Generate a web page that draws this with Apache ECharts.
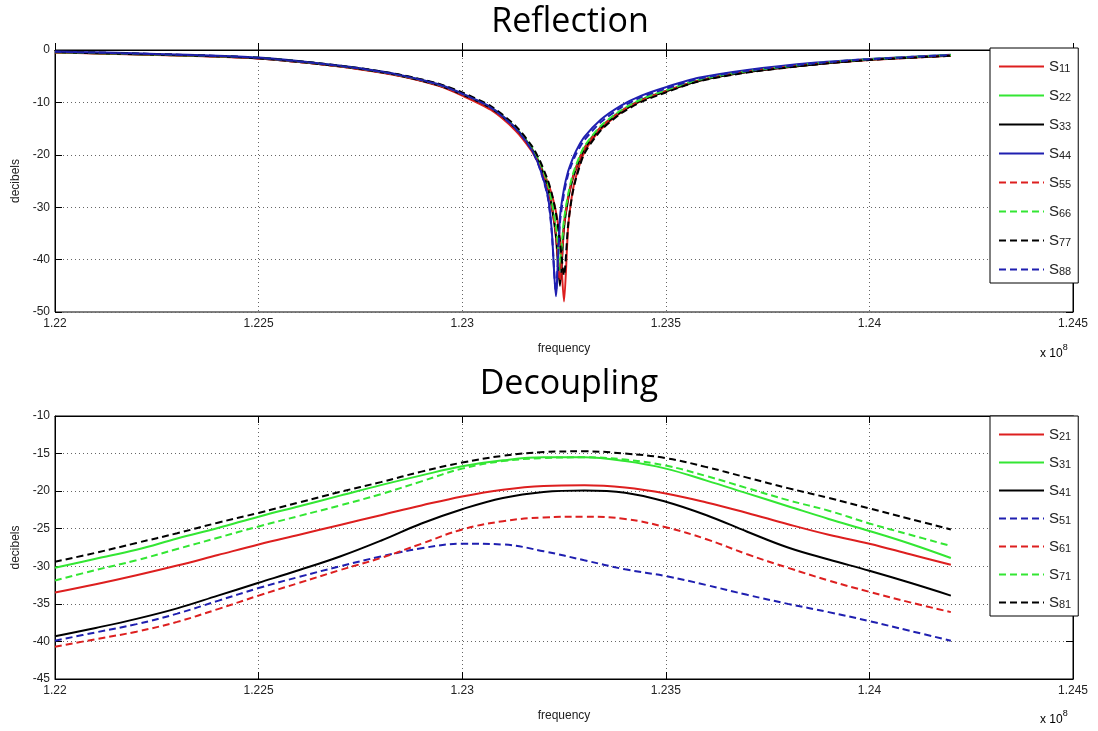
<!DOCTYPE html>
<html>
<head>
<meta charset="utf-8">
<title>Reflection / Decoupling</title>
<script src="https://cdn.jsdelivr.net/npm/echarts@6/dist/echarts.min.js"></script>
<style>
  html, body { margin: 0; padding: 0; background: #fff; }
  #chart { width: 1098px; height: 731px; }
</style>
</head>
<body>
<div id="chart"></div>
<script>
// Frequency in units of 1e8 Hz
const xTicks = [1.22, 1.225, 1.23, 1.235, 1.24, 1.245];

// ---- Reflection (S-parameters on the diagonal), dB ----
const reflFreq = [1.2200, 1.2210, 1.2225, 1.2240, 1.2250, 1.2262, 1.2275, 1.2285, 1.2294, 1.2300,
  1.2307, 1.2313, 1.2317, 1.2319, 1.2321, 1.2322, 1.2323, 1.2324, 1.2325, 1.2326,
  1.2327, 1.2328, 1.2330, 1.2334, 1.2339, 1.2344, 1.2350, 1.2358, 1.2370, 1.2387,
  1.2400, 1.2420];
const S11 = [-0.5, -0.65, -0.95, -1.3, -1.6, -2.45, -3.7, -5.0, -6.8, -8.7, -11.4, -15.3, -19.2, -22.0, -25.2, -27.6, -30.8, -36.0, -48.0, -34.0, -27.5, -24.0, -19.5, -15.2, -11.9, -9.7, -7.9, -5.9, -4.2, -2.7, -1.9, -1.1];
const S22 = [-0.45, -0.6, -0.9, -1.2, -1.55, -2.4, -3.6, -4.9, -6.6, -8.4, -11.0, -14.8, -18.6, -21.5, -25.8, -29.5, -34.5, -42.0, -33.0, -28.0, -24.6, -22.2, -18.6, -14.7, -11.6, -9.5, -7.8, -5.8, -4.1, -2.6, -1.8, -1.0];
const S33 = [-0.45, -0.6, -0.9, -1.25, -1.6, -2.45, -3.65, -4.95, -6.7, -8.5, -11.1, -14.9, -18.8, -21.8, -26.2, -30.0, -35.5, -45.0, -34.0, -28.6, -25.0, -22.6, -18.9, -14.9, -11.8, -9.6, -7.9, -5.9, -4.2, -2.7, -1.85, -1.05];
const S44 = [-0.3, -0.45, -0.75, -1.1, -1.45, -2.3, -3.5, -4.8, -6.5, -8.3, -10.9, -14.8, -18.9, -22.4, -27.8, -34.5, -47.0, -32.0, -26.5, -23.2, -21.0, -19.2, -16.6, -13.3, -10.6, -8.7, -7.1, -5.3, -3.8, -2.4, -1.7, -0.9];
const S55 = [-0.45, -0.6, -0.9, -1.25, -1.6, -2.45, -3.65, -4.95, -6.7, -8.5, -11.1, -15.0, -18.9, -21.8, -26.0, -29.8, -35.0, -44.0, -33.5, -28.3, -24.8, -22.4, -18.8, -14.8, -11.7, -9.6, -7.85, -5.85, -4.15, -2.65, -1.85, -1.05];
const S66 = [-0.4, -0.55, -0.85, -1.2, -1.5, -2.35, -3.55, -4.85, -6.55, -8.3, -10.9, -14.6, -18.4, -21.3, -25.4, -29.0, -33.5, -40.0, -32.4, -27.6, -24.2, -21.9, -18.4, -14.5, -11.5, -9.4, -7.7, -5.7, -4.05, -2.55, -1.75, -0.95];
const S77 = [-0.35, -0.5, -0.8, -1.15, -1.5, -2.3, -3.5, -4.75, -6.4, -8.1, -10.7, -14.4, -18.2, -21.0, -24.8, -27.4, -31.0, -36.5, -43.0, -33.5, -27.8, -24.4, -19.8, -15.4, -12.1, -9.9, -8.1, -6.0, -4.3, -2.75, -1.9, -1.1];
const S88 = [-0.35, -0.5, -0.8, -1.15, -1.5, -2.35, -3.55, -4.85, -6.55, -8.35, -11.0, -14.9, -19.0, -22.5, -28.0, -34.8, -46.0, -33.0, -27.4, -23.8, -21.6, -19.8, -17.2, -13.8, -11.0, -9.0, -7.4, -5.5, -3.95, -2.5, -1.75, -0.95];

// ---- Decoupling (coupling from port 1), dB ----
const decFreq = [1.220, 1.221, 1.222, 1.223, 1.224, 1.225, 1.226, 1.227, 1.228, 1.229, 1.230, 1.231,
  1.232, 1.233, 1.234, 1.235, 1.236, 1.237, 1.238, 1.239, 1.240, 1.241, 1.242];
const S21 = [-33.5, -32.4, -31.2, -29.9, -28.5, -27.1, -25.8, -24.5, -23.2, -21.9, -20.7, -19.8, -19.3, -19.2, -19.5, -20.3, -21.5, -22.9, -24.4, -25.8, -27.0, -28.4, -29.8];
const S31 = [-30.2, -29.0, -27.8, -26.3, -24.9, -23.4, -22.0, -20.6, -19.2, -17.9, -16.7, -15.9, -15.5, -15.5, -16.0, -17.0, -18.6, -20.3, -22.0, -23.7, -25.3, -27.0, -28.9];
const S41 = [-39.3, -38.2, -37.0, -35.6, -33.9, -32.2, -30.5, -28.7, -26.6, -24.3, -22.4, -20.9, -20.1, -19.9, -20.2, -21.4, -23.2, -25.4, -27.5, -29.1, -30.6, -32.2, -33.9];
const S51 = [-39.9, -38.8, -37.7, -36.3, -34.6, -32.9, -31.4, -30.0, -28.7, -27.6, -27.0, -27.1, -28.0, -29.2, -30.4, -31.3, -32.5, -33.8, -35.0, -36.1, -37.3, -38.6, -39.9];
const S61 = [-40.7, -39.7, -38.7, -37.4, -35.7, -33.9, -32.2, -30.5, -28.9, -27.0, -25.1, -24.0, -23.5, -23.4, -23.7, -24.8, -26.4, -28.4, -30.2, -31.9, -33.4, -34.8, -36.1];
const S71 = [-31.9, -30.5, -29.2, -27.7, -26.2, -24.7, -23.3, -21.9, -20.4, -18.7, -17.0, -16.0, -15.6, -15.5, -15.8, -16.6, -18.0, -19.6, -21.2, -22.6, -24.3, -25.8, -27.3];
const S81 = [-29.4, -28.2, -26.9, -25.6, -24.2, -22.9, -21.5, -20.1, -18.8, -17.4, -16.2, -15.3, -14.8, -14.7, -15.0, -15.6, -16.8, -18.2, -19.6, -20.9, -22.3, -23.7, -25.1];

const RED = '#dd1f1f', GREEN = '#33e633', BLACK = '#000000', BLUE = '#1f1fb0';

const reflSeries = [
  ['S11', S11, RED, 'solid'], ['S22', S22, GREEN, 'solid'], ['S33', S33, BLACK, 'solid'], ['S44', S44, BLUE, 'solid'],
  ['S55', S55, RED, 'dashed'], ['S66', S66, GREEN, 'dashed'], ['S77', S77, BLACK, 'dashed'], ['S88', S88, BLUE, 'dashed']
];
const decSeries = [
  ['S21', S21, RED, 'solid'], ['S31', S31, GREEN, 'solid'], ['S41', S41, BLACK, 'solid'],
  ['S51', S51, BLUE, 'dashed'], ['S61', S61, RED, 'dashed'], ['S71', S71, GREEN, 'dashed'], ['S81', S81, BLACK, 'dashed']
];

const FONT = '"Liberation Sans", Arial, sans-serif';
const gridLine = { show: true, lineStyle: { color: '#666', type: [1, 3], width: 1 } };

function xAxes(gi) {
  return [
    {
      type: 'value', gridIndex: gi, min: xTicks[0], max: xTicks[xTicks.length - 1], interval: 0.005,
      name: 'frequency', nameLocation: 'middle', nameGap: 31,
      nameTextStyle: { fontFamily: FONT, fontSize: 12, color: '#222' },
      axisLine: { show: true, lineStyle: { color: '#000', width: 1 } },
      axisTick: { show: true, inside: true, length: 7, lineStyle: { color: '#000' } },
      axisLabel: { fontFamily: FONT, fontSize: 12, color: '#222', margin: 6,
        formatter: v => String(+v.toFixed(3)) },
      splitLine: gridLine
    },
    {
      type: 'value', gridIndex: gi, position: 'top', min: xTicks[0], max: xTicks[xTicks.length - 1], interval: 0.005,
      axisLine: { show: true, lineStyle: { color: '#000', width: 1 } },
      axisTick: { show: true, inside: true, length: 7, lineStyle: { color: '#000' } },
      axisLabel: { show: false }, splitLine: { show: false }
    }
  ];
}
function yAxes(gi, min, max, interval) {
  return [
    {
      type: 'value', gridIndex: gi, min, max, interval,
      name: 'decibels', nameLocation: 'middle', nameGap: 27,
      nameTextStyle: { fontFamily: FONT, fontSize: 12, color: '#222' },
      axisLine: { show: true, lineStyle: { color: '#000', width: 1 } },
      axisTick: { show: true, inside: true, length: 7, lineStyle: { color: '#000' } },
      axisLabel: { fontFamily: FONT, fontSize: 12, color: '#222', margin: 5 },
      splitLine: gridLine
    },
    {
      type: 'value', gridIndex: gi, position: 'right', min, max, interval,
      axisLine: { show: true, lineStyle: { color: '#000', width: 1 } },
      axisTick: { show: true, inside: true, length: 7, lineStyle: { color: '#000' } },
      axisLabel: { show: false }, splitLine: { show: false }
    }
  ];
}

function makeSeries(list, freq, axisOffset, smooth) {
  return list.map(([name, vals, color, dash]) => ({
    name, type: 'line',
    xAxisIndex: axisOffset, yAxisIndex: axisOffset,
    data: freq.map((f, i) => [f, vals[i]]),
    symbol: 'none', smooth,
    lineStyle: { color, width: 2, type: dash === 'dashed' ? [7, 4] : 'solid' },
    itemStyle: { color },
    z: 3
  }));
}

const legendRich = {
  s: { fontFamily: FONT, fontSize: 15, color: '#222', lineHeight: 15, verticalAlign: 'top' },
  sub: { fontFamily: FONT, fontSize: 11, color: '#222', lineHeight: 11, padding: [7, 0, 0, 0], verticalAlign: 'bottom' }
};
function legend(names, top, gap) {
  return {
    orient: 'vertical', left: 990, top,
    data: names,
    backgroundColor: '#fff', borderColor: '#000', borderWidth: 1,
    padding: [8, 7, 6, 8], itemGap: gap, itemWidth: 45, itemHeight: 14,
    itemStyle: { opacity: 0 },
    formatter: n => '{s|S}{sub|' + n.slice(1) + '}',
    textStyle: { rich: legendRich },
    selectedMode: false
  };
}

const sup8 = {
  a: { fontFamily: FONT, fontSize: 12, color: '#222', padding: [6, 0, 0, 0] },
  b: { fontFamily: FONT, fontSize: 9, color: '#222', padding: [0, 0, 6, 0] }
};

const chart = echarts.init(document.getElementById('chart'), null, { renderer: 'canvas' });
chart.setOption({
  backgroundColor: '#fff',
  animation: false,
  title: [
    { text: 'Reflection', left: 565, top: 0, textAlign: 'center',
      textStyle: { fontFamily: '"Open Sans", sans-serif', fontSize: 34, fontWeight: 'normal', color: '#000' } },
    { text: 'Decoupling', left: 564, top: 362, textAlign: 'center',
      textStyle: { fontFamily: '"Open Sans", sans-serif', fontSize: 34, fontWeight: 'normal', color: '#000' } }
  ],
  grid: [
    { left: 55, top: 50, right: 25, height: 262, show: true, borderColor: '#000', borderWidth: 1, backgroundColor: '#fff' },
    { left: 55, top: 416, right: 25, height: 263, show: true, borderColor: '#000', borderWidth: 1, backgroundColor: '#fff' }
  ],
  xAxis: [...xAxes(0), ...xAxes(1)],
  yAxis: [...yAxes(0, -50, 0, 10), ...yAxes(1, -45, -10, 5)],
  legend: [
    legend(reflSeries.map(s => s[0]), 48, 11),
    legend(decSeries.map(s => s[0]), 416, 10)
  ],
  graphic: [
    { type: 'text', left: 1040, top: 343, style: { text: '{a|x 10}{b|8}', rich: sup8 } },
    { type: 'text', left: 1040, top: 709, style: { text: '{a|x 10}{b|8}', rich: sup8 } }
  ],
  series: [
    ...makeSeries(reflSeries, reflFreq, 0, 0.25),
    ...makeSeries(decSeries, decFreq, 2, 0.4)
  ]
});
</script>
</body>
</html>
